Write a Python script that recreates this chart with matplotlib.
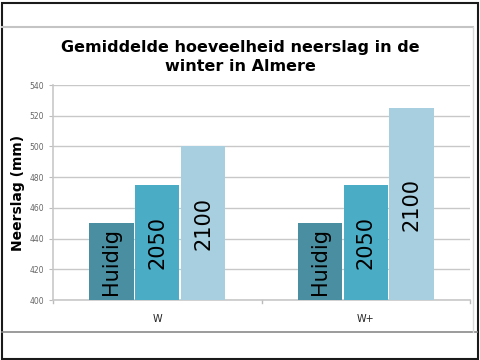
import matplotlib
matplotlib.use("Agg")
import matplotlib.pyplot as plt
from matplotlib.patches import Rectangle
from matplotlib.lines import Line2D
import numpy as np

# data
categories = ["W", "W+"]
series = ["Huidig", "2050", "2100"]
huidig = [450, 450]
j2050 = [475, 475]
j2100 = [500, 525]
colors = ["#4A8FA1", "#4BACC6", "#A8CFDF"]

W, H = 480, 360
fig = plt.figure(figsize=(4.8, 3.6), dpi=100)
fig.patch.set_facecolor("white")

# outer frame and chart-area separators
fig.add_artist(Rectangle((1.5 / W, 1.5 / H), 476 / W, 356 / H, transform=fig.transFigure,
                         fill=False, edgecolor="#1a1a1a", linewidth=1.5))
fig.add_artist(Line2D([2 / W, 473 / W], [1 - 27 / H, 1 - 27 / H], transform=fig.transFigure,
                      color="#c4c4c4", linewidth=1.5))
fig.add_artist(Line2D([2 / W, 477 / W], [1 - 332 / H, 1 - 332 / H], transform=fig.transFigure,
                      color="#8a8a8a", linewidth=1.2))
fig.add_artist(Line2D([473 / W, 473 / W], [1 - 332 / H, 1 - 27 / H], transform=fig.transFigure,
                      color="#d8d8d8", linewidth=1.0))

ax = fig.add_axes([53 / W, 1 - 300 / H, 417 / W, 215 / H])

x = np.arange(len(categories))
bw = 0.22
values = [huidig, j2050, j2100]
for i, (name, vals) in enumerate(zip(series, values)):
    pos = x + (i - 1) * bw
    ax.bar(pos, np.array(vals) - 400, bw * 0.97, bottom=400, color=colors[i],
           edgecolor="none", zorder=3)
    for p, v in zip(pos, vals):
        ax.text(p, (400 + v) / 2, name, rotation=90, ha="center", va="center",
                fontsize=15, color="black", zorder=4)

ax.set_xlim(-0.5, 1.5)
ax.set_ylim(400, 540)
ax.set_yticks(np.arange(400, 541, 20))
ax.tick_params(axis="y", labelsize=5.5, labelcolor="#666666", length=3, color="#bbbbbb")
ax.yaxis.grid(True, color="#c8c8c8", linewidth=1.0, zorder=0)
ax.set_axisbelow(True)

ax.set_xticks(x)
ax.set_xticklabels(categories, fontsize=7, color="#222222")
ax.tick_params(axis="x", length=0, pad=10)
for b in [-0.5, 0.5, 1.5]:
    ax.plot([b, b], [400, 398], color="#bbbbbb", linewidth=1.0, clip_on=False, zorder=2)
for s in ["top", "right"]:
    ax.spines[s].set_visible(False)
for s in ["left", "bottom"]:
    ax.spines[s].set_color("#c8c8c8")
    ax.spines[s].set_linewidth(1.2)

ax.set_ylabel("Neerslag (mm)", fontsize=10, fontweight="bold", labelpad=3)
fig.text(0.5, 1 - 57 / H, "Gemiddelde hoeveelheid neerslag in de\nwinter in Almere",
         ha="center", va="center", fontsize=11.5, fontweight="bold", linespacing=1.35)

fig.savefig("out.png", dpi=100, facecolor="white")
